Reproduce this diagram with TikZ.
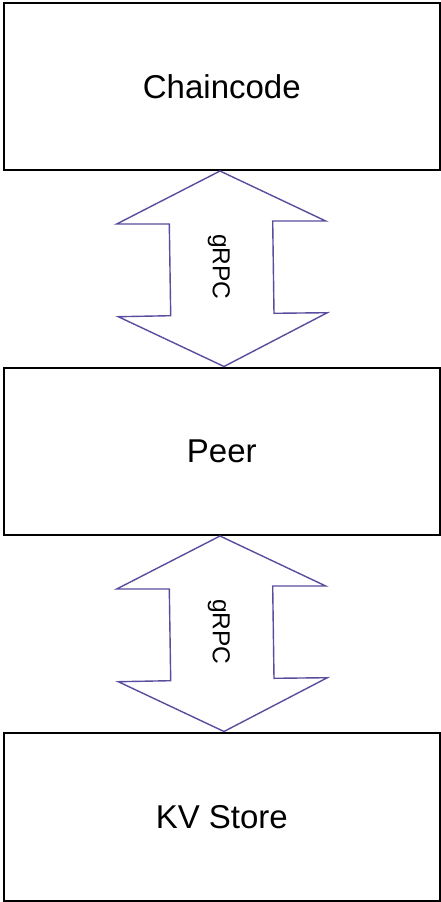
\documentclass[tikz,border=0pt]{standalone}
\usepackage{fontspec}
\setmainfont{Liberation Sans}
\begin{document}
\begin{tikzpicture}[x=1pt,y=-1pt,
  box/.style={draw=black,line width=1.6pt,fill=white},
  arr/.style={draw={rgb,255:red,88;green,78;blue,158},line width=1.4pt,line join=miter},
  big/.style={font=\fontsize{33}{40}\selectfont},
  lbl/.style={font=\fontsize{24.5}{30}\selectfont,rotate=-90}]
\useasboundingbox (0,0) rectangle (441,902);
\fill[white] (0,0) rectangle (441,902);
% boxes
\node[box,minimum width=436pt,minimum height=167pt,anchor=north west,inner sep=0pt] (chain) at (3,2) {};
\node[big] at (chain.center) {Chaincode};
\node[box,minimum width=436pt,minimum height=167pt,anchor=north west,inner sep=0pt] (peer) at (3,367) {};
\node[big] at (peer.center) {Peer};
\node[box,minimum width=436pt,minimum height=168pt,anchor=north west,inner sep=0pt] (kv) at (3,732) {};
\node[big] at (kv.center) {KV Store};
% arrows
\foreach \dy/\nm in {0/a1,365/a2}{
\begin{scope}[yshift=-\dy pt]
\draw[arr] (220,171) -- (325.7,221) -- (272.7,221) -- (274,313.3) -- (327.3,312.7)
  -- (224,366.5) -- (118.3,316.7) -- (170.7,315.7) -- (169.3,224) -- (116.7,224) -- cycle;
\node[lbl] (\nm) at (219,267) {gRPC};
\end{scope}}
\end{tikzpicture}
\end{document}
